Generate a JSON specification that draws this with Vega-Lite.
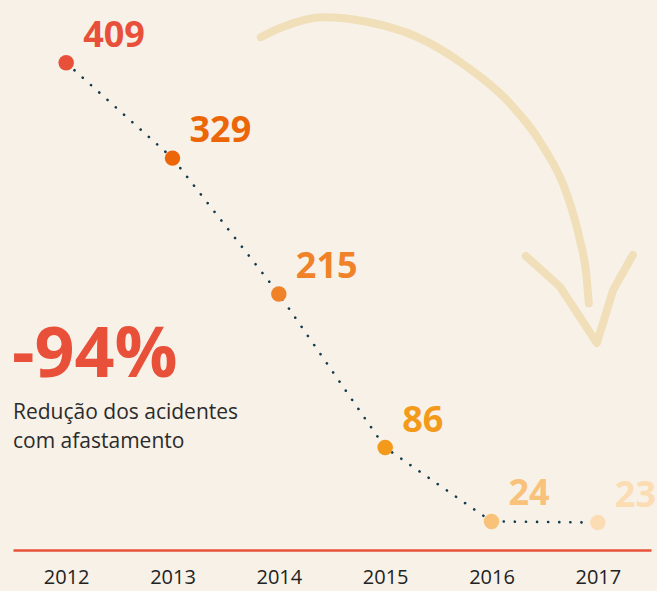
{
  "$schema": "https://vega.github.io/schema/vega-lite/v6.json",
  "width": 638,
  "height": 536,
  "padding": {"left": 13, "top": 14, "right": 6, "bottom": 41},
  "autosize": {"type": "none"},
  "background": "#f7f1e8",
  "config": {
    "view": {"stroke": null},
    "font": "Open Sans",
    "axisX": {"domainColor": "#e9503a", "domainWidth": 2.5, "ticks": false, "grid": false, "labelFontSize": 20, "labelColor": "#222222", "labelPadding": 17, "labelFont": "Open Sans", "title": null}
  },
  "datasets": {
    "acc": [
      {"year": 2012, "value": 409},
      {"year": 2013, "value": 329},
      {"year": 2014, "value": 215},
      {"year": 2015, "value": 86},
      {"year": 2016, "value": 24},
      {"year": 2017, "value": 23}
    ],
    "curve": [
      {"i": 0, "x": 2013.83, "y": 430.5},
      {"i": 1, "x": 2013.87, "y": 432.4},
      {"i": 2, "x": 2014.042, "y": 439.3},
      {"i": 3, "x": 2014.418, "y": 447.2},
      {"i": 4, "x": 2014.826, "y": 443.5},
      {"i": 5, "x": 2015.296, "y": 430.9},
      {"i": 6, "x": 2015.766, "y": 405.8},
      {"i": 7, "x": 2016.173, "y": 375.0},
      {"i": 8, "x": 2016.486, "y": 338.6},
      {"i": 9, "x": 2016.706, "y": 299.5},
      {"i": 10, "x": 2016.831, "y": 260.3},
      {"i": 11, "x": 2016.894, "y": 229.5},
      {"i": 12, "x": 2016.915, "y": 207.1}
    ],
    "head": [
      {"i": 1, "x": 2016.323, "y": 246.8},
      {"i": 2, "x": 2016.643, "y": 221.1},
      {"i": 3, "x": 2016.991, "y": 173.8},
      {"i": 4, "x": 2017.144, "y": 218.3},
      {"i": 5, "x": 2017.329, "y": 247.7}
    ],
    "note": [{"big": "-94%", "line1": "Redução dos acidentes", "line2": "com afastamento"}]
  },
  "layer": [
    {
      "data": {"name": "curve"},
      "mark": {"type": "line", "interpolate": "monotone", "stroke": "#f0dfb9", "strokeWidth": 8, "strokeCap": "round", "clip": false},
      "encoding": {
        "x": {"field": "x", "type": "quantitative", "title": null, "scale": {"domain": [2011.5, 2017.5], "nice": false, "zero": false}, "axis": {"values": [2012, 2013, 2014, 2015, 2016, 2017], "format": "d"}},
        "y": {"field": "y", "type": "quantitative", "scale": {"domain": [0, 450], "nice": false}, "axis": null},
        "order": {"field": "i"}
      }
    },
    {
      "data": {"name": "head"},
      "mark": {"type": "line", "stroke": "#f0dfb9", "strokeWidth": 8, "strokeCap": "round", "strokeJoin": "round", "clip": false},
      "encoding": {
        "x": {"field": "x", "type": "quantitative", "title": null, "axis": {"values": [2012, 2013, 2014, 2015, 2016, 2017], "format": "d"}},
        "y": {"field": "y", "type": "quantitative", "axis": null},
        "order": {"field": "i"}
      }
    },
    {
      "data": {"name": "acc"},
      "mark": {"type": "line", "stroke": "#123a4c", "strokeWidth": 2.6, "strokeDash": [0.1, 11], "strokeCap": "round"},
      "encoding": {
        "x": {"field": "year", "type": "quantitative", "title": null, "axis": {"values": [2012, 2013, 2014, 2015, 2016, 2017], "format": "d"}},
        "y": {"field": "value", "type": "quantitative", "axis": null}
      }
    },
    {
      "data": {"name": "acc"},
      "mark": {"type": "circle", "size": 240, "opacity": 1},
      "encoding": {
        "x": {"field": "year", "type": "quantitative", "title": null, "axis": {"values": [2012, 2013, 2014, 2015, 2016, 2017], "format": "d"}},
        "y": {"field": "value", "type": "quantitative", "axis": null},
        "color": {"field": "year", "type": "ordinal", "legend": null,
          "scale": {"domain": [2012, 2013, 2014, 2015, 2016, 2017], "range": ["#e9503a", "#ec6608", "#f08228", "#f39a1b", "#f9c27a", "#fbdcb3"]}}
      }
    },
    {
      "data": {"name": "acc"},
      "mark": {"type": "text", "align": "left", "baseline": "alphabetic", "dx": 17, "dy": -16, "fontSize": 36, "fontWeight": "bold", "font": "Open Sans"},
      "encoding": {
        "x": {"field": "year", "type": "quantitative", "title": null, "axis": {"values": [2012, 2013, 2014, 2015, 2016, 2017], "format": "d"}},
        "y": {"field": "value", "type": "quantitative", "axis": null},
        "text": {"field": "value", "type": "quantitative"},
        "color": {"field": "year", "type": "ordinal", "legend": null}
      }
    },
    {
      "data": {"name": "note"},
      "mark": {"type": "text", "align": "left", "baseline": "alphabetic", "fontSize": 70, "fontWeight": "bold", "font": "Open Sans", "color": "#e9503a", "clip": false},
      "encoding": {
        "x": {"datum": 2011.49},
        "y": {"datum": 145},
        "text": {"field": "big"}
      }
    },
    {
      "data": {"name": "note"},
      "mark": {"type": "text", "align": "left", "baseline": "alphabetic", "fontSize": 21, "font": "Open Sans", "color": "#2b2b2b", "clip": false},
      "encoding": {
        "x": {"datum": 2011.5},
        "y": {"datum": 110},
        "text": {"field": "line1"}
      }
    },
    {
      "data": {"name": "note"},
      "mark": {"type": "text", "align": "left", "baseline": "alphabetic", "fontSize": 21, "font": "Open Sans", "color": "#2b2b2b", "clip": false},
      "encoding": {
        "x": {"datum": 2011.5},
        "y": {"datum": 85.5},
        "text": {"field": "line2"}
      }
    }
  ]
}
